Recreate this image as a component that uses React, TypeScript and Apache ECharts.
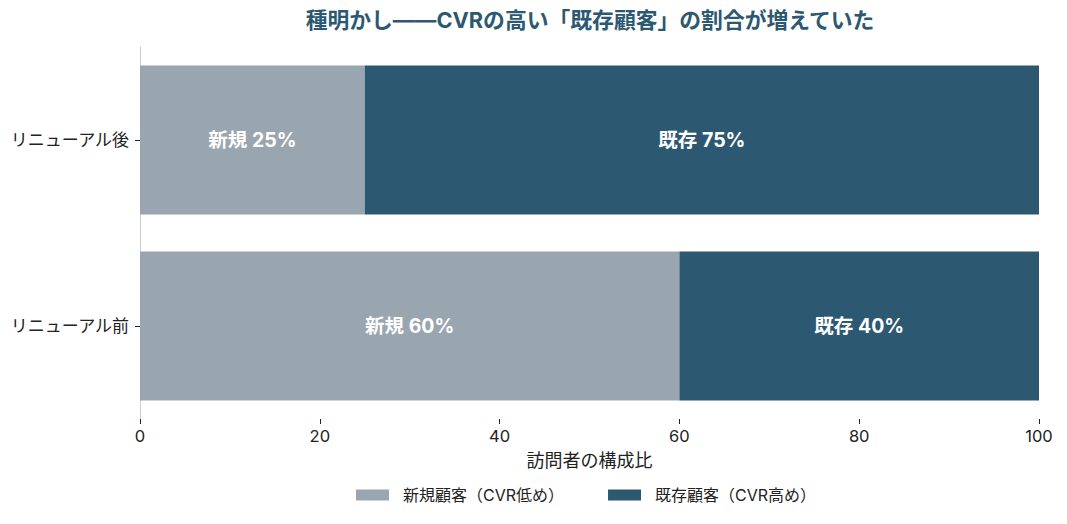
import React, { useEffect, useRef } from "react";
import * as echarts from "echarts";

const categories = ["リニューアル前", "リニューアル後"];
const newShare = [60, 25];
const existingShare = [40, 75];
const seriesNames = ["新規顧客（CVR低め）", "既存顧客（CVR高め）"];
const labelPrefixes = ["新規", "既存"];
const xTicks = [0, 20, 40, 60, 80, 100];

const FONT = "Inter, 'Noto Sans CJK JP', sans-serif";
const GRAY = "#9AA6AF";
const NAVY = "#2C5872";

export default function App() {
  const ref = useRef<HTMLDivElement>(null);
  useEffect(() => {
    if (!ref.current) return;
    const chart = echarts.init(ref.current, undefined, { renderer: "svg" });
    const mkLabel = (prefix: string) => ({
      show: true,
      position: "inside",
      formatter: (p: any) => `${prefix} ${p.value}%`,
      color: "#ffffff",
      fontWeight: "bold",
      fontSize: 19.5,
      fontFamily: FONT,
    });
    chart.setOption({
      animation: false,
      textStyle: { fontFamily: FONT },
      title: {
        text: "種明かし——CVRの高い「既存顧客」の割合が増えていた",
        left: 585,
        textAlign: "center",
        top: 4,
        textStyle: { color: NAVY, fontSize: 21.8, fontWeight: "bold", fontFamily: FONT },
      },
      legend: {
        top: 482,
        left: 351,
        itemWidth: 33,
        itemHeight: 11,
        itemGap: 44,
        icon: "rect",
        textStyle: { fontSize: 16, color: "#222", fontFamily: FONT, padding: [0, 0, 0, 9] },
        data: seriesNames,
      },
      grid: { left: 140, right: 28, top: 47, bottom: 105, containLabel: false },
      xAxis: {
        type: "value",
        min: xTicks[0],
        max: xTicks[xTicks.length - 1],
        interval: 20,
        name: "訪問者の構成比",
        nameLocation: "middle",
        nameGap: 32,
        nameTextStyle: { fontSize: 18, color: "#222", fontFamily: FONT },
        axisLine: { show: false },
        axisTick: { show: true, length: 5, lineStyle: { color: "#222" } },
        axisLabel: { fontSize: 16.5, color: "#222", margin: 9, fontFamily: FONT },
        splitLine: { show: false },
      },
      yAxis: {
        type: "category",
        data: categories,
        axisLine: { show: true, lineStyle: { color: "#cccccc" } },
        axisTick: { show: true, alignWithLabel: true, length: 5, lineStyle: { color: "#222" } },
        axisLabel: { fontSize: 17, color: "#222", margin: 11, fontFamily: FONT },
      },
      series: [
        {
          name: seriesNames[0],
          type: "bar",
          stack: "total",
          barWidth: "80%",
          data: newShare,
          itemStyle: { color: GRAY },
          label: mkLabel(labelPrefixes[0]),
        },
        {
          name: seriesNames[1],
          type: "bar",
          stack: "total",
          barWidth: "80%",
          data: existingShare,
          itemStyle: { color: NAVY },
          label: mkLabel(labelPrefixes[1]),
        },
      ],
    });
    return () => chart.dispose();
  }, []);
  return <div ref={ref} style={{ width: 1067, height: 524, margin: -8 }} />;
}
